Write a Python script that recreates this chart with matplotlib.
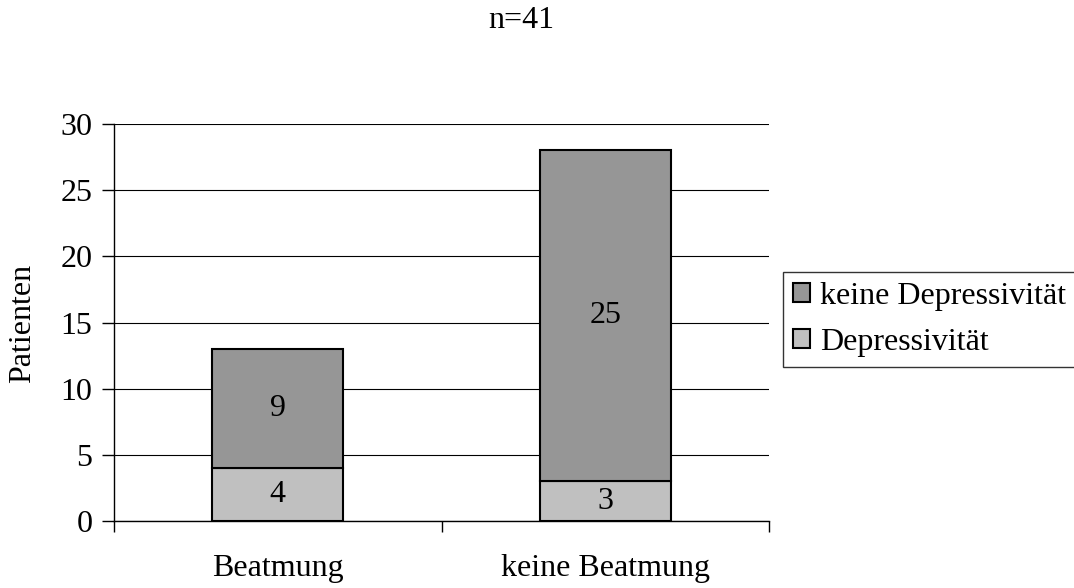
import matplotlib.pyplot as plt
import matplotlib.patches as mpatches

plt.rcParams['font.family'] = ['Liberation Serif', 'DejaVu Serif']

categories = ['Beatmung', 'keine Beatmung']
depressiv = [4, 3]
keine_depressiv = [9, 25]
series_labels = ['keine Depressivität', 'Depressivität']
y_ticks = [0, 5, 10, 15, 20, 25, 30]

c_dark = '#969696'
c_light = '#c0c0c0'
fs = 23

fig = plt.figure(figsize=(10.74, 5.88), dpi=100)
ax = fig.add_axes([114 / 1074, 1 - 521 / 588, 655 / 1074, 397 / 588])

x = [i + 0.5 for i in range(len(categories))]
ax.bar(x, depressiv, width=0.4, color=c_light, edgecolor='black', linewidth=1.5, zorder=3)
ax.bar(x, keine_depressiv, width=0.4, bottom=depressiv, color=c_dark,
       edgecolor='black', linewidth=1.5, zorder=3)

# value labels in the middle of each segment
for xi, d, k in zip(x, depressiv, keine_depressiv):
    ax.text(xi, d / 2, str(d), ha='center', va='center', fontsize=fs, zorder=4)
    ax.text(xi, d + k / 2, str(k), ha='center', va='center', fontsize=fs, zorder=4)

ax.set_xlim(0, len(categories))
ax.set_ylim(0, 30)
ax.set_yticks(y_ticks)
ax.tick_params(axis='y', labelsize=fs, length=8.5, width=1, direction='out', pad=7)
ax.yaxis.grid(True, color='black', linewidth=0.8, zorder=0)

# category labels, separators as minor ticks
ax.set_xticks(x)
ax.set_xticklabels(categories, fontsize=fs)
ax.tick_params(axis='x', which='major', length=0, pad=24)
ax.set_xticks(range(len(categories) + 1), minor=True)
ax.tick_params(axis='x', which='minor', length=8, width=1, direction='out')

for s in ['top', 'right']:
    ax.spines[s].set_visible(False)
ax.spines['left'].set_linewidth(1)
ax.spines['bottom'].set_linewidth(1)

fig.text(23 / 1074, 1 - 323 / 588, 'Patienten', rotation=90, ha='center', va='center', fontsize=fs)
fig.text(521 / 1074, 1 - 21 / 588, 'n=41', ha='center', va='center', fontsize=fs)

handles = [mpatches.Patch(facecolor=c_dark, edgecolor='black', linewidth=1.5),
           mpatches.Patch(facecolor=c_light, edgecolor='black', linewidth=1.5)]
leg = fig.legend(handles, series_labels, loc='upper left',
                 bbox_to_anchor=(783 / 1074, 1 - 272 / 588), fontsize=fs,
                 frameon=True, fancybox=False, handlelength=0.55, handleheight=0.55,
                 handletextpad=0.3, borderpad=0.3, labelspacing=0.55, borderaxespad=0)
leg.get_frame().set_edgecolor('black')
leg.get_frame().set_linewidth(1)

fig.savefig('out.png', dpi=100)
